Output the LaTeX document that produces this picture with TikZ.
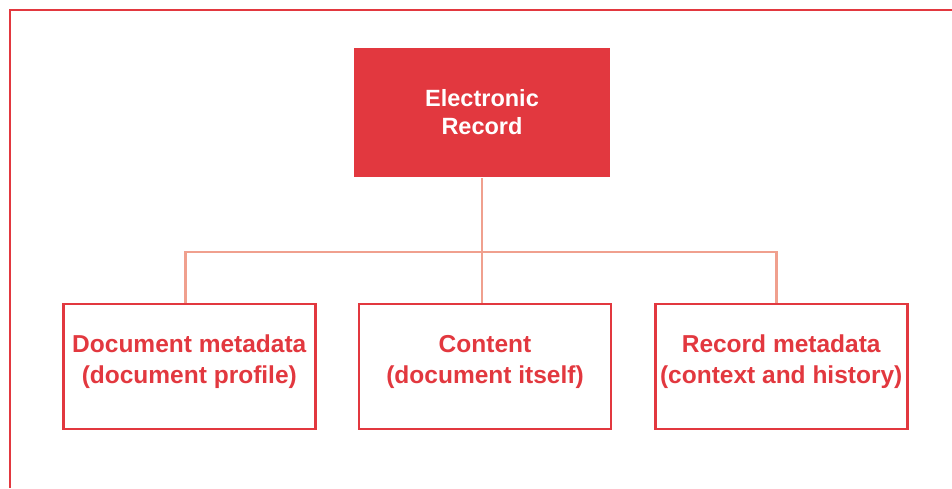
\documentclass[tikz,border=0pt]{standalone}
\usepackage{fontspec}
\setmainfont{Liberation Sans}
\usetikzlibrary{positioning}
\definecolor{recred}{HTML}{E2383F}
\definecolor{linkpink}{HTML}{F0A08E}
\tikzset{every picture/.style={line width=2.7pt}}

\begin{document}
\begin{tikzpicture}[x=1pt,y=-1pt,node distance=41pt,
    every node/.style={align=center},
    rootbox/.style={fill=recred, text=white, minimum width=256pt, minimum height=129pt,
        font=\bfseries\fontsize{23.5}{28}\selectfont},
    partbox/.style={draw=recred, text=recred, minimum width=252pt, minimum height=125pt,
        text depth=15pt, font=\bfseries\fontsize{24.5}{31}\selectfont},
    link/.style={draw=linkpink}]
        \useasboundingbox (0,0) rectangle (952,488);
        \draw[recred] (10,488) -- (10,10) -- (952,10);

        \node[rootbox] (rec) at (482,112.5) {Electronic\\Record};
        \node[partbox] (cont) at (485,366.5) {Content\\(document itself)};
        \node[partbox,left=of cont] (docmeta) {Document metadata\\(document profile)};
        \node[partbox,right=41.5pt of cont] (recmeta) {Record metadata\\(context and history)};

        \coordinate (hub) at (482,252);
        \draw[link] (rec.south) -- (hub);
        \draw[link] ([xshift=-3.5pt]docmeta.north) |- (hub) -| ([xshift=-5pt]recmeta.north);
        \draw[link] (hub) -- (hub |- cont.north);
\end{tikzpicture}
\end{document}
